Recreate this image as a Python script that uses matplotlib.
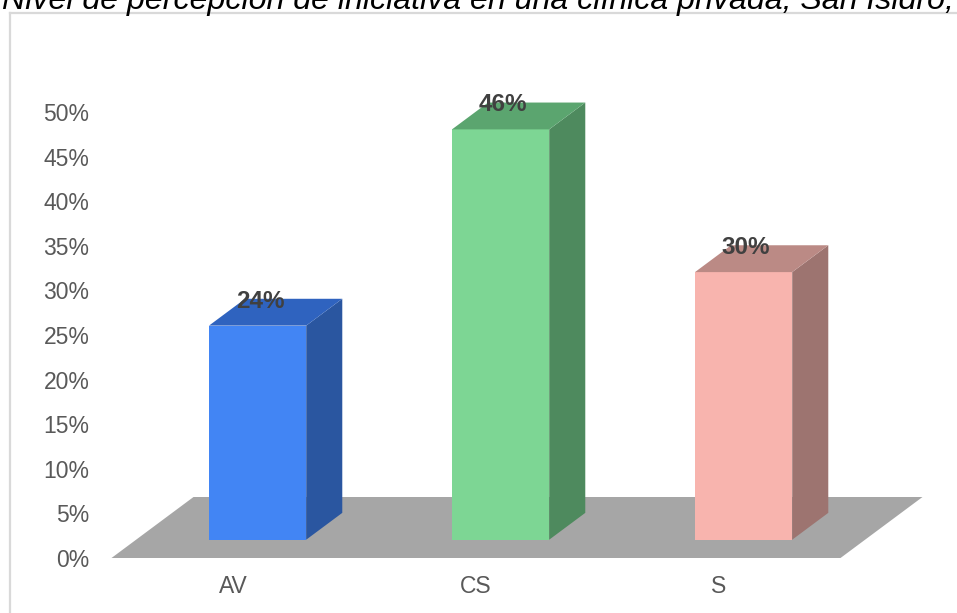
import numpy as np
import matplotlib.pyplot as plt
from matplotlib.patches import Polygon
from matplotlib.lines import Line2D

# ---------------------------
# Datos
# ---------------------------
categorias = ["AV", "CS", "S"]
valores = [24, 46, 30]
etiquetas = ["24%", "46%", "30%"]
ticks_y = [0, 5, 10, 15, 20, 25, 30, 35, 40, 45, 50]
titulo = "Nivel de percepción de iniciativa en una clínica privada, San Isidro,"

# colores: frente, lado, arriba
col_frente = ["#4285f4", "#7dd694", "#f8b4ae"]
col_lado = ["#2a56a0", "#4e8a5e", "#9d7470"]
col_arriba = ["#2f63bf", "#5ba56f", "#bb8a85"]

plt.rcParams['font.family'] = ['Liberation Sans', 'DejaVu Sans']

# ---------------------------
# Figura y ejes
# ---------------------------
W, H = 957, 613
fig = plt.figure(figsize=(W / 100, H / 100), dpi=100)

px_unit = 243.0      # pixeles por categoria
px_pct = 8.92        # pixeles por 1%
x0_px, y0_px = 233.0, 558.0   # categoria 0 / 0%
ax_left, ax_top = 100, 13

ax = fig.add_axes([ax_left / W, (H - y0_px) / H,
                   (W - ax_left) / W, (y0_px - ax_top) / H])
ax.set_xlim((ax_left - x0_px) / px_unit, (W - x0_px) / px_unit)
ax.set_ylim(0, (y0_px - ax_top) / px_pct)
for s in ax.spines.values():
    s.set_visible(False)

# vector de profundidad (en unidades de datos)
dx = 82 / px_unit
dy = 61 / px_pct

# ---------------------------
# Piso gris
# ---------------------------
x_a, x_b = -0.5, len(categorias) - 0.5
piso = Polygon([(x_a, 0), (x_b, 0), (x_b + dx, dy), (x_a + dx, dy)],
               closed=True, facecolor="#a6a6a6", edgecolor="none",
               clip_on=False, zorder=1)
ax.add_patch(piso)

# ---------------------------
# Barras 3D
# ---------------------------
ancho = 0.4
d1, d2 = 0.30, 0.74
for i, v in enumerate(valores):
    xl = i - ancho / 2 + d1 * dx
    xr = i + ancho / 2 + d1 * dx
    yb = d1 * dy
    yt = v + d1 * dy
    ox = (d2 - d1) * dx
    oy = (d2 - d1) * dy
    frente = Polygon([(xl, yb), (xr, yb), (xr, yt), (xl, yt)],
                     facecolor=col_frente[i], edgecolor="none", zorder=3)
    lado = Polygon([(xr, yb), (xr + ox, yb + oy), (xr + ox, yt + oy), (xr, yt)],
                   facecolor=col_lado[i], edgecolor="none", zorder=3)
    arriba = Polygon([(xl, yt), (xr, yt), (xr + ox, yt + oy), (xl + ox, yt + oy)],
                     facecolor=col_arriba[i], edgecolor="none", zorder=3)
    for p in (frente, lado, arriba):
        ax.add_patch(p)
    ax.text(i + d1 * dx + 0.01, v + 0.70 * dy, etiquetas[i],
            ha="center", va="center", fontsize=17.5, fontweight="bold",
            color="#404040", zorder=5)

# ---------------------------
# Ejes / etiquetas
# ---------------------------
ax.set_yticks(ticks_y)
ax.set_yticklabels([f"{t}%" for t in ticks_y])
ax.set_xticks(range(len(categorias)))
ax.set_xticklabels(categorias)
ax.tick_params(axis="y", length=0, pad=7.5, labelsize=16.5, labelcolor="#595959")
ax.tick_params(axis="x", length=0, pad=12, labelsize=16.5, labelcolor="#595959")

# borde del grafico
fig.add_artist(Line2D([9.5 / W, 9.5 / W], [0, 1 - 13 / H],
                      transform=fig.transFigure, color="#d9d9d9", lw=1.6))
fig.add_artist(Line2D([9.5 / W, 1], [1 - 13 / H, 1 - 13 / H],
                      transform=fig.transFigure, color="#d9d9d9", lw=1.6))

# titulo (cortado arriba, como en el original)
t = fig.text(2 / W, 1 - 9.5 / H, titulo, ha="left", va="baseline",
             fontsize=20, style="italic", color="black")
fig.canvas.draw()
w = t.get_window_extent().width
t.set_fontsize(20 * 950 / w)

fig.savefig("out.png", dpi=100)
